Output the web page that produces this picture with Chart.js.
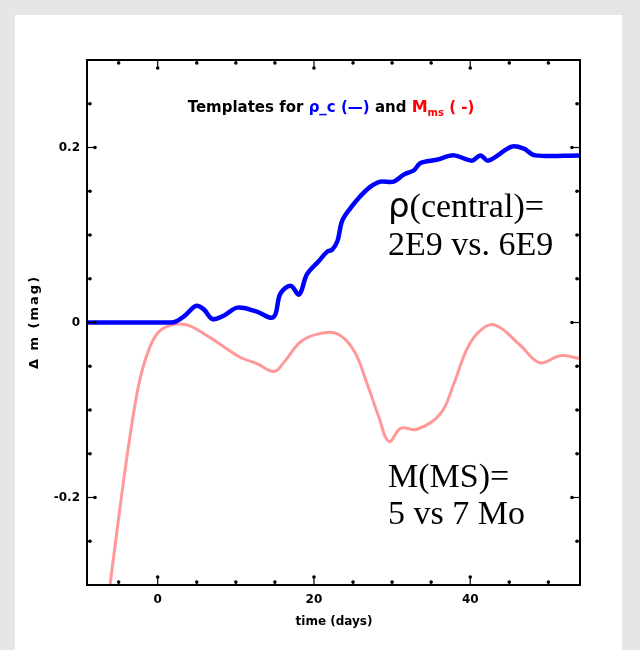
<!DOCTYPE html>
<html>
<head>
<meta charset="utf-8">
<script src="https://cdn.jsdelivr.net/npm/chart.js@4"></script>
<style>
  body { margin: 0; background: #e6e6e6; }
  #panel { position: absolute; left: 15px; top: 15px; width: 607px; height: 635px; background: #fff; }
  #chart { position: absolute; left: 0; top: 0; }
</style>
</head>
<body>
<div id="panel"></div>
<canvas id="chart" width="640" height="650"></canvas>
<script>
// rho_c template (blue)
const blueDays = [-9, -4, 0, 1.5, 2.3, 3.5, 4.9, 5.9, 7.0, 8.5, 10.2, 12.5, 14.8, 15.7, 17.0, 18.1, 19.1, 20.6, 21.7, 22.3, 23.0, 23.6, 24.7, 25.9, 27.2, 28.5, 30.2, 31.5, 32.8, 33.6, 35.7, 37.9, 40.2, 41.3, 42.3, 45.3, 46.8, 48.3, 54]
const blueMag = [0, 0, 0, 0, 0.001, 0.008, 0.019, 0.015, 0.004, 0.008, 0.017, 0.013, 0.006, 0.033, 0.042, 0.032, 0.055, 0.070, 0.081, 0.083, 0.093, 0.116, 0.131, 0.144, 0.155, 0.161, 0.161, 0.169, 0.174, 0.182, 0.186, 0.191, 0.185, 0.191, 0.185, 0.201, 0.199, 0.191, 0.191]

// M_ms template (red)
const redDays = [-6.1, -4.7, -3.5, -2.4, -1.3, 0, 1.7, 3.8, 6.3, 8.5, 10.6, 12.7, 14.9, 16.2, 18.3, 20.6, 23.0, 25.1, 26.8, 28.3, 29.6, 31.1, 33.2, 36.2, 37.9, 39.6, 41.3, 43.2, 46.4, 48.9, 51.5, 54]
const redMag = [-0.3, -0.203, -0.127, -0.07, -0.035, -0.012, -0.003, -0.003, -0.015, -0.028, -0.040, -0.047, -0.056, -0.045, -0.022, -0.013, -0.013, -0.032, -0.070, -0.108, -0.136, -0.121, -0.122, -0.104, -0.070, -0.030, -0.009, -0.003, -0.026, -0.046, -0.038, -0.041]

// axis ticks
const xTicks = [0, 20, 40]
const xMinorTicks = [-5, 0, 5, 10, 15, 20, 25, 30, 35, 40, 45, 50]
const yTicks = [-0.2, 0, 0.2]
const yTickLabels = ["-0.2", "0", "0.2"]
const yMinorTicks = [-0.25, -0.2, -0.15, -0.1, -0.05, 0, 0.05, 0.1, 0.15, 0.2, 0.25]

const toPoints = (xs, ys) => xs.map((x, i) => ({ x: x, y: ys[i] }))

// Frame, inward ticks, titles and annotations
const framePlugin = {
  id: "frame",
  afterDraw(chart) {
    const ctx = chart.ctx
    const a = chart.chartArea
    const xs = chart.scales.x
    const ys = chart.scales.y
    ctx.save()
    ctx.strokeStyle = "#000"
    ctx.fillStyle = "#000"
    ctx.lineWidth = 2
    ctx.strokeRect(a.left, a.top, a.right - a.left, a.bottom - a.top)

    const tick = (x1, y1, x2, y2, major) => {
      ctx.lineWidth = major ? 1.2 : 1.5
      ctx.beginPath()
      ctx.moveTo(x1, y1)
      ctx.lineTo(x2, y2)
      ctx.stroke()
      ctx.beginPath()
      ctx.arc(x2, y2, 1.8, 0, Math.PI * 2)
      ctx.fill()
    }
    xMinorTicks.forEach((v) => {
      const px = xs.getPixelForValue(v)
      const len = xTicks.includes(v) ? 8 : 3
      tick(px, a.bottom, px, a.bottom - len, len > 3)
      tick(px, a.top, px, a.top + len, len > 3)
    })
    yMinorTicks.forEach((v) => {
      const py = ys.getPixelForValue(v)
      const len = yTicks.includes(v) ? 8 : 3
      tick(a.left, py, a.left + len, py, len > 3)
      tick(a.right, py, a.right - len, py, len > 3)
    })

    // title with coloured parts
    const parts = [
      { t: "Templates for ", c: "#000", f: "bold 15px 'DejaVu Sans'", dy: 0 },
      { t: "\u03c1_c (\u2014)", c: "#0000ff", f: "bold 15px 'DejaVu Sans'", dy: 0 },
      { t: " and ", c: "#000", f: "bold 15px 'DejaVu Sans'", dy: 0 },
      { t: "M", c: "#ff0000", f: "bold 16px 'DejaVu Sans'", dy: 0 },
      { t: "ms", c: "#ff0000", f: "bold 10px 'DejaVu Sans'", dy: 4 },
      { t: " ( -)", c: "#ff0000", f: "bold 15px 'DejaVu Sans'", dy: 0 },
    ]
    let total = 0
    parts.forEach((p) => {
      ctx.font = p.f
      p.w = ctx.measureText(p.t).width
      total += p.w
    })
    let tx = 331 - total / 2
    ctx.textBaseline = "alphabetic"
    ctx.textAlign = "left"
    parts.forEach((p) => {
      ctx.font = p.f
      ctx.fillStyle = p.c
      ctx.fillText(p.t, tx, 112 + p.dy)
      tx += p.w
    })

    // axis titles
    ctx.fillStyle = "#000"
    ctx.font = "bold 12px 'DejaVu Sans'"
    ctx.textAlign = "center"
    ctx.textBaseline = "middle"
    ctx.fillText("time (days)", 334, 622)
    ctx.save()
    ctx.translate(35, 322)
    ctx.rotate(-Math.PI / 2)
    ctx.font = "bold 13px 'DejaVu Sans'"
    ctx.letterSpacing = "2px"
    ctx.fillText("\u0394 m (mag)", 0, 0)
    ctx.restore()

    // annotations
    ctx.textAlign = "left"
    ctx.textBaseline = "alphabetic"
    ctx.font = "34px 'DejaVu Sans'"
    ctx.fillText("\u03c1", 388, 217)
    const rw = ctx.measureText("\u03c1").width
    ctx.font = "34px 'Liberation Serif'"
    ctx.fillText("(central)=", 388 + rw, 217)
    ctx.fillText("2E9 vs. 6E9", 388, 255)
    ctx.fillText("M(MS)=", 388, 487)
    ctx.fillText("5 vs 7 Mo", 388, 524)
    ctx.restore()
  },
}

new Chart(document.getElementById("chart"), {
  type: "line",
  data: {
    datasets: [
      {
        label: "rho_c",
        data: toPoints(blueDays, blueMag),
        borderColor: "#0000ff",
        borderWidth: 4.5,
        pointRadius: 0,
        tension: 0.35,
      },
      {
        label: "M_ms",
        data: toPoints(redDays, redMag),
        borderColor: "rgba(255, 70, 70, 0.55)",
        borderWidth: 3,
        pointRadius: 0,
        tension: 0.4,
      },
    ],
  },
  options: {
    responsive: false,
    animation: false,
    layout: { padding: { left: 0, top: 60, right: 60, bottom: 0 } },
    plugins: {
      legend: { display: false },
      tooltip: { enabled: false },
    },
    scales: {
      x: {
        type: "linear",
        min: -9.05,
        max: 54.05,
        afterFit: (scale) => { scale.height = 65 },
        afterBuildTicks: (scale) => { scale.ticks = xTicks.map((v) => ({ value: v })) },
        grid: { display: false, drawTicks: false },
        border: { display: false },
        ticks: {
          padding: 8,
          color: "#000",
          font: { family: "DejaVu Sans", weight: "bold", size: 12 },
        },
      },
      y: {
        type: "linear",
        min: -0.3,
        max: 0.3,
        afterFit: (scale) => { scale.width = 87 },
        afterBuildTicks: (scale) => { scale.ticks = yTicks.map((v) => ({ value: v })) },
        grid: { display: false, drawTicks: false },
        border: { display: false },
        ticks: {
          padding: 7,
          color: "#000",
          font: { family: "DejaVu Sans", weight: "bold", size: 12 },
          callback: (value) => yTickLabels[yTicks.indexOf(value)],
        },
      },
    },
  },
  plugins: [framePlugin],
})
</script>
</body>
</html>
